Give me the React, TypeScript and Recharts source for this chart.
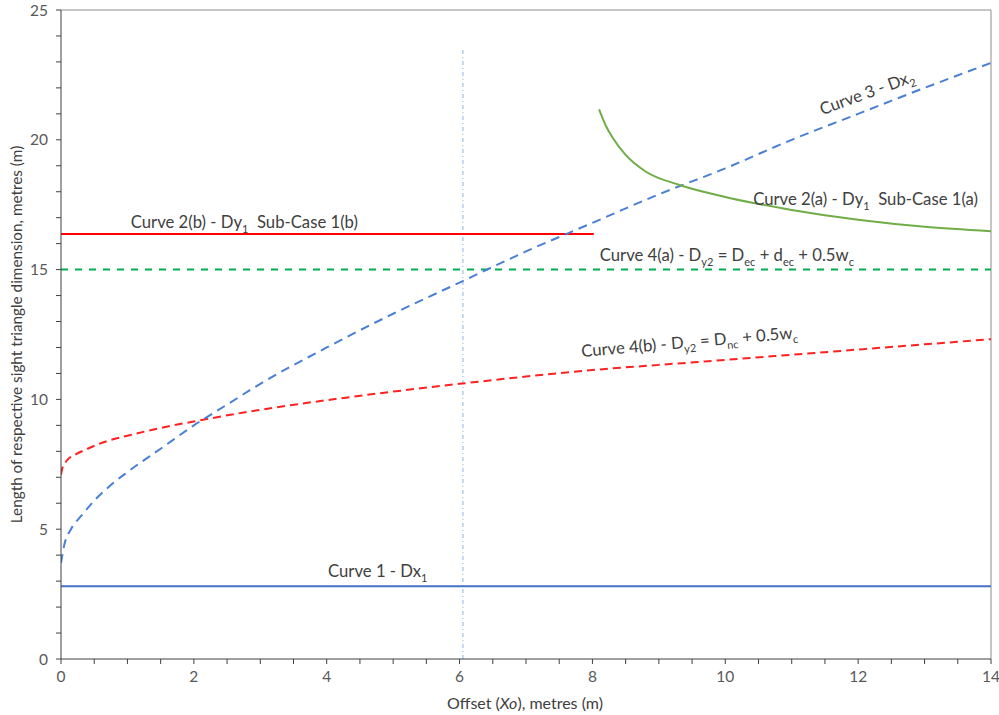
import React from 'react';
import { LineChart, Line, XAxis, YAxis, ReferenceLine, ReferenceDot } from 'recharts';

// ---- data ----
const xTicks = [0, 0.5, 1, 1.5, 2, 2.5, 3, 3.5, 4, 4.5, 5, 5.5, 6, 6.5, 7, 7.5, 8, 8.5, 9, 9.5, 10, 10.5, 11, 11.5, 12, 12.5, 13, 13.5, 14];
const xTickLabels = [0, 2, 4, 6, 8, 10, 12, 14];
const yTicks = [0, 1, 2, 3, 4, 5, 6, 7, 8, 9, 10, 11, 12, 13, 14, 15, 16, 17, 18, 19, 20, 21, 22, 23, 24, 25];
const yTickLabels = [0, 5, 10, 15, 20, 25];

const curve1 = [
  { x: 0, y: 2.8 },
  { x: 14, y: 2.8 },
];
const curve2b = [
  { x: 0, y: 16.37 },
  { x: 8.02, y: 16.37 },
];
const curve4a = [
  { x: 0, y: 15 },
  { x: 14, y: 15 },
];
const curve2a = [
  { x: 8.1, y: 21.17 },
  { x: 8.2, y: 20.55 },
  { x: 8.3, y: 20.1 },
  { x: 8.5, y: 19.42 },
  { x: 8.8, y: 18.78 },
  { x: 9.3, y: 18.27 },
  { x: 10, y: 17.8 },
  { x: 11, y: 17.3 },
  { x: 12, y: 16.92 },
  { x: 13, y: 16.65 },
  { x: 14, y: 16.48 },
];
const curve3 = [
  { x: 0, y: 3.7 },
  { x: 0.05, y: 4.4 },
  { x: 0.15, y: 5.0 },
  { x: 0.3, y: 5.5 },
  { x: 0.5, y: 6.1 },
  { x: 0.75, y: 6.7 },
  { x: 1, y: 7.2 },
  { x: 1.5, y: 8.1 },
  { x: 2, y: 9.0 },
  { x: 2.5, y: 9.8 },
  { x: 3, y: 10.6 },
  { x: 4, y: 12.0 },
  { x: 5, y: 13.3 },
  { x: 6, y: 14.5 },
  { x: 7, y: 15.7 },
  { x: 8, y: 16.8 },
  { x: 9, y: 17.9 },
  { x: 10, y: 18.9 },
  { x: 11, y: 20.0 },
  { x: 12, y: 21.0 },
  { x: 13, y: 22.0 },
  { x: 14, y: 22.96 },
];
const curve4b = [
  { x: 0, y: 7.1 },
  { x: 0.02, y: 7.35 },
  { x: 0.05, y: 7.5 },
  { x: 0.1, y: 7.68 },
  { x: 0.2, y: 7.85 },
  { x: 0.4, y: 8.1 },
  { x: 0.7, y: 8.4 },
  { x: 1, y: 8.6 },
  { x: 1.5, y: 8.9 },
  { x: 2, y: 9.15 },
  { x: 3, y: 9.6 },
  { x: 4, y: 9.97 },
  { x: 5, y: 10.3 },
  { x: 6, y: 10.6 },
  { x: 7, y: 10.88 },
  { x: 8, y: 11.13 },
  { x: 9, y: 11.33 },
  { x: 10, y: 11.52 },
  { x: 11, y: 11.72 },
  { x: 12, y: 11.92 },
  { x: 13, y: 12.12 },
  { x: 14, y: 12.32 },
];
const offsetLine = [
  { x: 6.05, y: 0 },
  { x: 6.05, y: 23.57 },
];

type Seg = { t: string; sub?: boolean };
const labelCurve1: Seg[] = [{ t: 'Curve 1 - Dx' }, { t: '1', sub: true }];
const labelCurve2b: Seg[] = [{ t: 'Curve 2(b) - Dy' }, { t: '1', sub: true }, { t: '\u00a0 Sub-Case 1(b)' }];
const labelCurve2a: Seg[] = [{ t: 'Curve 2(a) - Dy' }, { t: '1', sub: true }, { t: '\u00a0 Sub-Case 1(a)' }];
const labelCurve3: Seg[] = [{ t: 'Curve 3 - Dx' }, { t: '2', sub: true }];
const labelCurve4a: Seg[] = [
  { t: 'Curve 4(a) - D' }, { t: 'y2', sub: true }, { t: ' = D' }, { t: 'ec', sub: true },
  { t: ' + d' }, { t: 'ec', sub: true }, { t: ' + 0.5w' }, { t: 'c', sub: true },
];
const labelCurve4b: Seg[] = [
  { t: 'Curve 4(b) - D' }, { t: 'y2', sub: true }, { t: ' = D' }, { t: 'nc', sub: true },
  { t: ' + 0.5w' }, { t: 'c', sub: true },
];
const xTitle = ['Offset (', 'Xo', '), metres (m)'];
const yTitle = 'Length of respective sight triangle dimension, metres (m)';

// annotation anchor points (data coordinates) and rotation
const annotations: { x: number; y: number; segs: Seg[]; rot: number }[] = [
  { x: 4.02, y: 3.16, segs: labelCurve1, rot: 0 },
  { x: 1.05, y: 16.6, segs: labelCurve2b, rot: 0 },
  { x: 10.42, y: 17.49, segs: labelCurve2a, rot: 0 },
  { x: 11.46, y: 20.95, segs: labelCurve3, rot: -20 },
  { x: 8.11, y: 15.33, segs: labelCurve4a, rot: 0 },
  { x: 7.84, y: 11.63, segs: labelCurve4b, rot: -5 },
];

const FONT = 'Lato, "Open Sans", sans-serif';
const TEXT = '#404040';

function RichText({ x, y, segs, rot, fontSize }: { x: number; y: number; segs: Seg[]; rot: number; fontSize: number }) {
  let shifted = false;
  const shift = fontSize * 0.28;
  const parts = segs.map((s, i) => {
    let dy = 0;
    if (s.sub && !shifted) {
      dy = shift;
      shifted = true;
    } else if (!s.sub && shifted) {
      dy = -shift;
      shifted = false;
    }
    return (
      <tspan key={i} dy={dy} fontSize={s.sub ? fontSize * 0.66 : fontSize}>
        {s.t}
      </tspan>
    );
  });
  return (
    <text
      x={x}
      y={y}
      transform={rot ? `rotate(${rot} ${x} ${y})` : undefined}
      style={{ whiteSpace: 'pre' }}
      fill={TEXT}
      fontFamily={FONT}
      fontSize={fontSize}
    >
      {parts}
    </text>
  );
}

export default function App() {
  return (
    <div style={{ position: 'absolute', left: 0, top: 0, width: 999, height: 715, background: '#fff' }}>
      <LineChart width={999} height={715} margin={{ top: 10, right: 8, bottom: 0, left: 0 }}>
        <XAxis
          type="number"
          dataKey="x"
          domain={[0, 14]}
          ticks={xTicks}
          interval={0}
          allowDataOverflow
          height={56}
          tickSize={5}
          tickMargin={7}
          tickFormatter={(v: number) => (xTickLabels.includes(v) ? String(v) : '')}
          tick={{ fill: '#595959', fontSize: 15.5, fontFamily: FONT }}
          tickLine={{ stroke: '#404040' }}
          axisLine={{ stroke: '#404040' }}
          label={{
            content: (p: any) => {
              const vb = p.viewBox || { x: 61, y: 659, width: 930, height: 56 };
              return (
                <text
                  x={vb.x + vb.width / 2 - 1}
                  y={vb.y + 50}
                  textAnchor="middle"
                  fill={TEXT}
                  fontFamily={FONT}
                  fontSize={16}
                  style={{ whiteSpace: 'pre' }}
                >
                  <tspan>{xTitle[0]}</tspan>
                  <tspan fontStyle="italic">{xTitle[1]}</tspan>
                  <tspan>{xTitle[2]}</tspan>
                </text>
              );
            },
          }}
        />
        <YAxis
          type="number"
          dataKey="y"
          domain={[0, 25]}
          ticks={yTicks}
          interval={0}
          allowDataOverflow
          width={61}
          tickSize={5}
          tickMargin={8}
          tickFormatter={(v: number) => (yTickLabels.includes(v) ? String(v) : '')}
          tick={{ fill: '#595959', fontSize: 15.5, fontFamily: FONT }}
          tickLine={{ stroke: '#404040' }}
          axisLine={{ stroke: '#404040' }}
          label={{
            content: (p: any) => {
              const vb = p.viewBox || { x: 0, y: 10, width: 61, height: 649 };
              const cx = 22;
              const cy = vb.y + vb.height / 2;
              return (
                <text
                  x={cx}
                  y={cy}
                  transform={`rotate(-90 ${cx} ${cy})`}
                  textAnchor="middle"
                  fill={TEXT}
                  fontFamily={FONT}
                  fontSize={15.3}
                >
                  {yTitle}
                </text>
              );
            },
          }}
        />
        <ReferenceLine y={25} stroke="#8c8c8c" strokeWidth={1} />
        <ReferenceLine x={14} stroke="#8c8c8c" strokeWidth={1} />

        <Line data={offsetLine} dataKey="y" type="linear" stroke="#9dc3e6" strokeWidth={1.2} strokeDasharray="4 3 1 3" dot={false} activeDot={false} isAnimationActive={false} />
        <Line data={curve1} dataKey="y" type="linear" stroke="#4472c4" strokeWidth={2} dot={false} activeDot={false} isAnimationActive={false} />
        <Line data={curve4a} dataKey="y" type="linear" stroke="#00b050" strokeWidth={2} strokeDasharray="7 7" dot={false} activeDot={false} isAnimationActive={false} />
        <Line data={curve2b} dataKey="y" type="linear" stroke="#ff0000" strokeWidth={2} dot={false} activeDot={false} isAnimationActive={false} />
        <Line data={curve4b} dataKey="y" type="monotone" stroke="#ff2020" strokeWidth={2} strokeDasharray="8 5" dot={false} activeDot={false} isAnimationActive={false} />
        <Line data={curve3} dataKey="y" type="monotone" stroke="#4a7fd6" strokeWidth={2} strokeDasharray="9 6" dot={false} activeDot={false} isAnimationActive={false} />
        <Line data={curve2a} dataKey="y" type="monotone" stroke="#70ad47" strokeWidth={2} dot={false} activeDot={false} isAnimationActive={false} />

        {annotations.map((a, i) => (
          <ReferenceDot
            key={i}
            x={a.x}
            y={a.y}
            r={0}
            ifOverflow="visible"
            shape={(p: any) => <RichText x={p.cx} y={p.cy} segs={a.segs} rot={a.rot} fontSize={16.7} />}
          />
        ))}
      </LineChart>
    </div>
  );
}
